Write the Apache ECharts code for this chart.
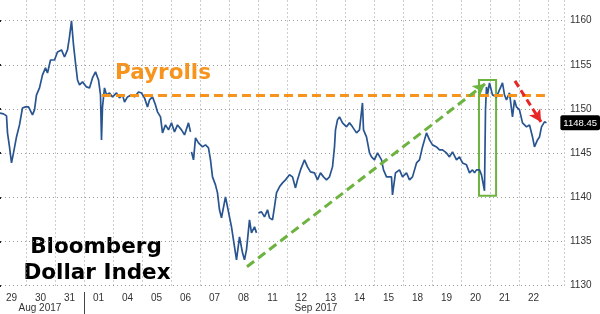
<!DOCTYPE html>
<html><head><meta charset="utf-8">
<script src="https://cdn.jsdelivr.net/npm/echarts@6/dist/echarts.min.js"></script>
<style>html,body{margin:0;padding:0;background:#fff}#c{width:600px;height:314px}</style>
</head><body><div id="c"></div>
<script>
// Trading-day index: day k spans [k, k+1]
const dayLabels = ['29','30','31','01','04','05','06','07','08','11','12','13','14','15','18','19','20','21','22'];
const dayLabelPos = [0.5,1.5,2.5,3.5,4.5,5.5,6.5,7.5,8.5,9.5,10.5,11.5,12.5,13.5,14.5,15.5,16.5,17.5,18.5];
const monthLabels = ['Aug 2017','Sep 2017'];
const monthLabelPos = [1.48, 11.0];
const monthBoundary = [3];
const yTicks = [1130,1135,1140,1145,1150,1155,1160];
const lastValue = [1148.45];

const times = [
0.086,0.224,0.328,0.362,0.431,0.500,0.569,0.672,0.776,0.879,0.983,1.086,1.224,1.293,1.362,1.466,1.569,1.672,1.741,1.845,
1.983,2.086,2.224,2.328,2.431,2.500,2.569,2.638,2.707,2.776,2.845,2.948,3.086,3.190,3.293,3.397,3.500,3.569,3.603,3.638,
3.707,3.776,3.879,3.983,4.121,4.224,4.328,4.397,4.500,4.638,4.741,4.879,4.983,5.086,5.190,5.259,5.362,5.466,5.534,5.638,
5.707,5.810,5.914,6.017,6.121,6.224,6.362,6.466,6.603,6.672,null,
6.707,6.776,6.845,6.948,7.086,7.190,7.293,7.362,7.431,7.534,7.603,7.672,7.741,7.879,8.017,8.086,8.190,8.259,8.362,8.466,
8.534,8.603,8.707,8.776,8.879,8.948,null,
9.017,9.121,9.224,9.328,9.397,9.500,9.569,9.638,9.741,9.845,9.948,10.086,10.190,10.293,10.362,10.466,10.603,10.707,10.810,10.948,
11.052,11.155,11.259,11.362,11.466,11.569,11.638,11.672,11.741,11.810,11.914,12.052,12.155,12.259,12.397,12.500,12.603,12.638,12.741,12.845,
12.914,13.017,13.121,13.259,13.328,13.431,13.603,13.638,13.741,13.879,13.983,14.121,14.224,14.328,14.466,14.569,14.672,14.810,14.914,15.017,
15.155,15.259,15.362,15.500,15.603,15.707,15.845,15.948,16.052,16.190,16.293,16.397,16.466,16.534,16.638,16.707,16.810,16.845,16.879,16.914,
16.983,17.086,17.224,17.328,17.431,17.500,17.569,17.672,17.776,17.845,17.914,18.017,18.121,18.259,18.362,18.466,18.534,18.638,18.707,18.776,
18.879,18.948];
const values = [
1149.56,1149.45,1149.22,1147.30,1145.71,1143.90,1145.03,1146.84,1148.20,1150.12,1150.24,1150.24,1149.33,1149.90,1151.60,1152.39,1153.86,1154.65,1154.08,1155.55,
1155.55,1156.46,1156.69,1155.89,1156.69,1158.16,1159.97,1157.25,1155.21,1153.29,1152.73,1153.07,1152.50,1152.39,1153.52,1154.20,1153.29,1151.60,1146.50,1150.24,
1152.39,1151.60,1151.82,1151.37,1151.82,1151.26,1151.60,1150.80,1151.37,1151.60,1151.37,1151.93,1151.82,1151.26,1150.24,1151.03,1151.37,1150.46,1149.67,1149.11,
1147.30,1148.20,1147.64,1148.43,1147.41,1148.20,1147.64,1147.07,1148.43,1147.41,null,
1145.15,1144.24,1146.73,1146.17,1145.71,1145.94,1145.60,1144.24,1142.32,1141.41,1140.51,1138.59,1137.68,1140.06,1137.79,1136.66,1134.40,1132.93,1135.53,1133.72,
1132.93,1134.06,1137.45,1135.98,1136.66,1135.98,null,
1138.25,1138.36,1137.79,1138.59,1137.68,1137.45,1138.93,1140.51,1141.19,1141.64,1141.98,1142.55,1142.32,1141.07,1141.98,1143.11,1144.24,1143.45,1142.88,1142.77,
1141.98,1142.77,1142.32,1141.98,1142.32,1143.45,1145.71,1147.64,1148.77,1149.11,1148.43,1147.98,1148.43,1147.98,1147.30,1147.64,1150.69,1147.64,1146.84,1145.03,
1144.58,1144.24,1145.03,1144.24,1143.11,1142.32,1142.32,1140.28,1142.77,1143.11,1142.32,1142.77,1141.98,1142.32,1143.90,1144.24,1145.71,1147.30,1146.50,1145.94,
1145.71,1145.37,1145.37,1145.03,1144.58,1145.15,1144.24,1144.58,1143.90,1143.68,1142.77,1143.11,1142.77,1143.11,1143.11,1142.55,1140.74,1149.90,1152.50,1151.60,
1152.95,1151.60,1151.37,1152.16,1152.95,1151.60,1151.03,1151.82,1149.11,1151.03,1150.24,1149.90,1148.43,1147.98,1148.20,1146.84,1145.71,1146.50,1146.84,1147.98,
1148.54,1148.45];

// annotations (data coordinates)
const payrollLine = [[3.62, 1151.6], [18.93, 1151.6]];
const greenArrow = [[8.62, 1132.14], [16.83, 1152.84]];
const redArrow = [[17.86, 1153.18], [18.76, 1148.54]];
const greenBox = [[16.62, 1153.29], [17.21, 1140.17]];

const lineData = times.map((t, i) => t === null ? ['-', '-'] : [t, values[i]]);

const labelFont = "'Liberation Sans Narrow','Liberation Sans',Arial,sans-serif";
const chart = echarts.init(document.getElementById('c'), null, {renderer: 'canvas'});
chart.setOption({
  animation: false,
  backgroundColor: '#fff',
  grid: {left: -3, right: 36, top: -23.5, bottom: 28.3, containLabel: false, outerBoundsMode: 'none'},
  xAxis: [{
    type: 'value', min: 0, max: 19.552, interval: 1,
    axisLine: {show: false}, axisTick: {show: false},
    splitLine: {show: true, lineStyle: {color: '#9a9a9a', type: [1, 3], width: 1}},
    axisLabel: {show: true, customValues: dayLabelPos, interval: 0, margin: 8,
      fontSize: 10, color: '#333', fontFamily: labelFont,
      formatter: v => dayLabels[Math.floor(v)]}
  }, {
    type: 'value', min: 0, max: 19.552, position: 'bottom', offset: 6.3,
    axisLine: {show: false},
    axisTick: {show: true, customValues: monthBoundary, length: 22, lineStyle: {color: '#444', width: 1}},
    splitLine: {show: false},
    axisLabel: {show: true, customValues: monthLabelPos, margin: 11, fontSize: 10, color: '#333', fontFamily: labelFont,
      formatter: v => monthLabels[monthLabelPos.indexOf(v)]}
  }],
  yAxis: {
    type: 'value', position: 'right', min: 1130, max: 1165, interval: 5,
    axisLine: {show: true, lineStyle: {color: '#333', width: 1}},
    axisTick: {show: true, length: 4, lineStyle: {color: '#222', width: 2}},
    minorTick: {show: true, splitNumber: 2, length: 3, lineStyle: {color: '#444'}},
    splitLine: {show: true, lineStyle: {color: '#9a9a9a', type: [1, 3], width: 1}},
    axisLabel: {show: true, margin: 6, fontSize: 10, color: '#333', fontFamily: labelFont,
      customValues: yTicks, formatter: v => String(v)},
    axisPointer: {
      show: true, type: 'line', value: lastValue[0], status: 'show', snap: false, triggerTooltip: false,
      lineStyle: {opacity: 0},
      label: {show: true, backgroundColor: '#000', color: '#fff', fontSize: 9.5, fontFamily: labelFont,
        padding: [3, 3, 2, 3], borderRadius: 2, margin: 2, formatter: () => lastValue[0].toFixed(2)},
      handle: {show: false}
    }
  },
  axisPointer: {triggerOn: 'none'},
  series: [{
    type: 'line', xAxisIndex: 0, data: lineData, showSymbol: false, symbol: 'none', connectNulls: false,
    lineStyle: {color: '#28548f', width: 1.7}, silent: true,
    markLine: {
      silent: true, animation: false, label: {show: false},
      data: [
        [{coord: payrollLine[0], symbol: 'none', lineStyle: {color: '#f7941d', width: 3, type: [9, 5]}},
         {coord: payrollLine[1], symbol: 'none'}],
        [{coord: greenArrow[0], symbol: 'none', lineStyle: {color: '#6db33f', width: 3, type: [9, 5]}},
         {coord: greenArrow[1], symbol: 'arrow', symbolSize: [10, 12]}],
        [{coord: redArrow[0], symbol: 'none', lineStyle: {color: '#e8262a', width: 3, type: [7, 4]}},
         {coord: redArrow[1], symbol: 'arrow', symbolSize: [10, 12]}]
      ]
    },
    markArea: {
      silent: true, label: {show: false},
      itemStyle: {color: 'rgba(0,0,0,0)', borderColor: '#6db33f', borderWidth: 2},
      data: [[{coord: greenBox[0]}, {coord: greenBox[1]}]]
    }
  }],
  graphic: [
    {type: 'text', x: 115, y: 73, silent: true,
      style: {text: 'Payrolls', font: "bold 21.5px 'DejaVu Sans'", fill: '#f7941d', align: 'left', verticalAlign: 'middle'}},
    {type: 'text', x: 96, y: 247.5, silent: true,
      style: {text: 'Bloomberg', font: "bold 21.5px 'DejaVu Sans'", fill: '#000', align: 'center', verticalAlign: 'middle'}},
    {type: 'text', x: 97, y: 273.5, silent: true,
      style: {text: 'Dollar Index', font: "bold 21.5px 'DejaVu Sans'", fill: '#000', align: 'center', verticalAlign: 'middle'}}
  ]
});
</script></body></html>
